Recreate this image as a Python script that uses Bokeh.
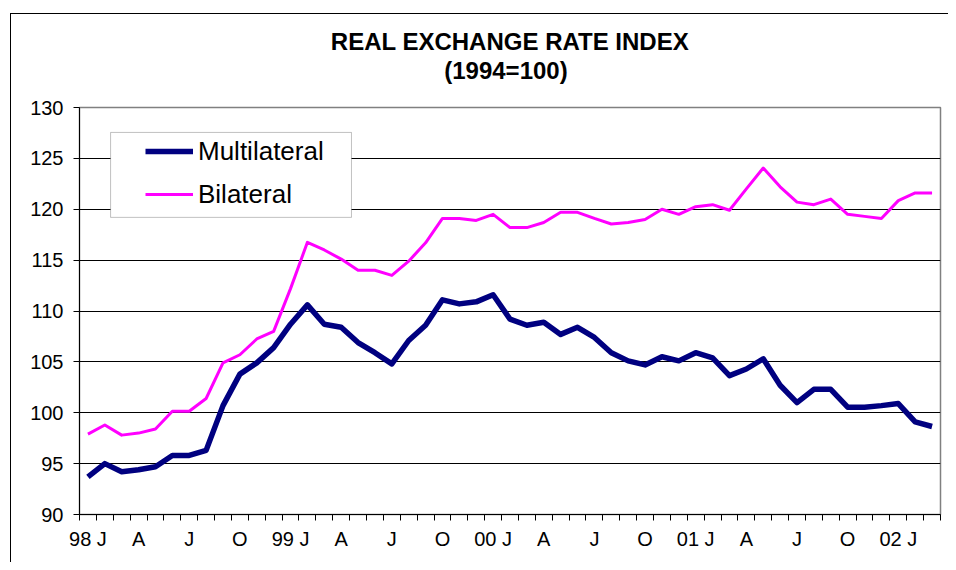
from bokeh.plotting import figure
from bokeh.models import Range1d, FixedTicker, Legend, LegendItem, BoxAnnotation, Title
from bokeh.embed import file_html
from bokeh.resources import INLINE

# ---- data -------------------------------------------------------------
months = [f"{y}-{m:02d}" for y in range(1998, 2003) for m in range(1, 13)][:51]

multilateral = [93.7, 95.0, 94.2, 94.4, 94.7, 95.8, 95.8, 96.3, 100.7, 103.8,
                104.9, 106.4, 108.7, 110.6, 108.7, 108.4, 106.9, 105.9, 104.8, 107.1,
                108.6, 111.1, 110.7, 110.9, 111.6, 109.2, 108.6, 108.9, 107.7, 108.4,
                107.4, 105.9, 105.1, 104.7, 105.5, 105.1, 105.9, 105.4, 103.65, 104.3,
                105.3, 102.7, 101.0, 102.3, 102.3, 100.55, 100.55, 100.7, 100.9, 99.1,
                98.65]

bilateral = [97.9, 98.8, 97.8, 98.0, 98.4, 100.15, 100.15, 101.4, 104.9, 105.7,
             107.25, 108.0, 112.2, 116.75, 116.0, 115.1, 114.0, 114.0, 113.5, 114.9,
             116.7, 119.1, 119.1, 118.9, 119.5, 118.2, 118.2, 118.7, 119.7, 119.7,
             119.1, 118.55, 118.7, 119.0, 120.0, 119.5, 120.25, 120.45, 119.9, 122.0,
             124.05, 122.2, 120.7, 120.45, 121.0, 119.5, 119.3, 119.1, 120.85, 121.6,
             121.6]

tick_labels = ["98 J", "A", "J", "O", "99 J", "A", "J", "O", "00 J", "A", "J", "O",
               "01 J", "A", "J", "O", "02 J"]
y_ticks = [90, 95, 100, 105, 110, 115, 120, 125, 130]

title_lines = ["REAL EXCHANGE RATE INDEX", "(1994=100)"]

FONT = "Liberation Sans"

x = list(range(len(months)))
label_pos = x[::3][:len(tick_labels)]
boundaries = [i - 0.5 for i in range(len(months) + 1)]

p = figure(width=948, height=562, output_backend="svg", toolbar_location=None,
           title=None,
           x_range=Range1d(-0.5, len(months) - 0.5), y_range=Range1d(90, 130),
           min_border_left=79, min_border_right=8, min_border_top=107, min_border_bottom=48)

# outer chart-area border (top and left edges) drawn as CSS background lines
p.styles = {
    "background-image": "linear-gradient(#000, #000), linear-gradient(#000, #000)",
    "background-size": "1px 3000px, 3000px 1px",
    "background-position": "10px 13px, 10px 13px",
    "background-repeat": "no-repeat",
}

p.background_fill_color = "white"
p.border_fill_alpha = 0
p.outline_line_color = "#808080"
p.outline_line_width = 1.5

# title (two lines; second line centred with non-breaking-space padding)
title_text = title_lines[0] + "\n" + "\u00a0" * 17 + title_lines[1]
p.add_layout(Title(text=title_text, align="center", text_font=FONT,
                   text_font_size="24px", text_font_style="bold", text_color="black",
                   text_line_height=1.1, standoff=46), "above")

# grid
p.xgrid.visible = False
p.ygrid.ticker = FixedTicker(ticks=y_ticks)
p.ygrid.grid_line_color = "black"
p.ygrid.grid_line_width = 1

# y axis
p.yaxis.ticker = FixedTicker(ticks=y_ticks)
p.yaxis.axis_line_color = "black"
p.yaxis.major_tick_line_color = "black"
p.yaxis.major_tick_out = 6
p.yaxis.major_tick_in = 0
p.yaxis.minor_tick_line_color = None
p.yaxis.major_label_text_font = FONT
p.yaxis.major_label_text_font_size = "20px"
p.yaxis.major_label_text_color = "black"
p.yaxis.major_label_standoff = 10

# x axis
p.xaxis.ticker = FixedTicker(ticks=label_pos, minor_ticks=boundaries)
p.xaxis.major_label_overrides = {pos: lab for pos, lab in zip(label_pos, tick_labels)}
p.xaxis.axis_line_color = "black"
p.xaxis.major_tick_out = 0
p.xaxis.major_tick_in = 0
p.xaxis.minor_tick_line_color = "black"
p.xaxis.minor_tick_out = 6
p.xaxis.minor_tick_in = 0
p.xaxis.major_label_text_font = FONT
p.xaxis.major_label_text_font_size = "20px"
p.xaxis.major_label_text_color = "black"
p.xaxis.major_label_standoff = 7

# legend box
box = BoxAnnotation(left=1.34, right=15.61, top=127.55, bottom=119.2,
                    fill_color="white", fill_alpha=1.0,
                    line_color="#333333", line_width=1)
p.add_layout(box)

r_bi = p.line(x, bilateral, line_color="#FF00FF", line_width=3, line_join="round")
r_mu = p.line(x, multilateral, line_color="#000080", line_width=5.5, line_join="round")

legend = Legend(items=[LegendItem(label="Multilateral", renderers=[r_mu]),
                       LegendItem(label="Bilateral", renderers=[r_bi])],
                location=(66, 303), orientation="vertical",
                border_line_color=None, background_fill_alpha=0,
                padding=0, margin=0, spacing=9,
                glyph_width=48, glyph_height=34, label_height=34,
                label_standoff=5,
                label_text_font=FONT, label_text_font_size="26px",
                label_text_color="black")
p.add_layout(legend)

open("out.html", "w").write(file_html(p, INLINE))
